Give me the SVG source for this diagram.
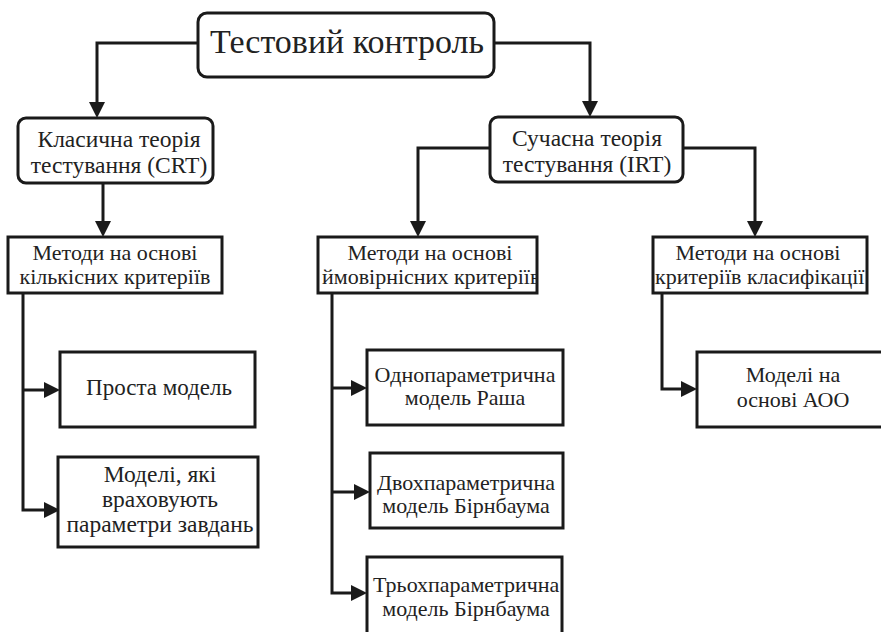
<svg xmlns="http://www.w3.org/2000/svg" width="881" height="632" viewBox="0 0 881 632">
<style>
.box{fill:#fff;stroke:#1a1a1a;stroke-width:3}
.t{font-family:"Liberation Serif","Times New Roman",serif;font-size:22px;fill:#222;text-anchor:middle}
.b{font-size:23.5px}
.c{fill:none;stroke:#1a1a1a;stroke-width:3}
</style>
<defs>
<marker id="ah" viewBox="0 0 16 16" refX="12" refY="8" markerWidth="16" markerHeight="16" markerUnits="userSpaceOnUse" orient="auto">
<path d="M0,0 L16,8 L0,16 z" fill="#1a1a1a"/>
</marker>
<clipPath id="c2"><rect x="318" y="237" width="219" height="56"/></clipPath>
<clipPath id="c3"><rect x="653" y="237" width="214" height="56"/></clipPath>
<clipPath id="c6"><rect x="367" y="557" width="195" height="80"/></clipPath>
</defs>
<rect width="881" height="632" fill="#fff"/>
<g id="connectors">
<path class="c" d="M198,43 H97 V114" marker-end="url(#ah)"/>
<path class="c" d="M494,43 H590 V113" marker-end="url(#ah)"/>
<path class="c" d="M103,183 V233" marker-end="url(#ah)"/>
<path class="c" d="M490,148 H418 V233" marker-end="url(#ah)"/>
<path class="c" d="M683,148 H755 V233" marker-end="url(#ah)"/>
<path class="c" d="M23,293 V510 H56" marker-end="url(#ah)"/>
<path class="c" d="M23,390 H56" marker-end="url(#ah)"/>
<path class="c" d="M332,293 V593 H363" marker-end="url(#ah)"/>
<path class="c" d="M332,388 H363" marker-end="url(#ah)"/>
<path class="c" d="M332,492 H366" marker-end="url(#ah)"/>
<path class="c" d="M662,293 V389 H693" marker-end="url(#ah)"/>
</g>
<g id="root">
<rect class="box" x="198" y="13" width="296" height="64" rx="9"/>
<text class="t" x="347" y="53" style="font-size:34px">Тестовий контроль</text>
</g>
<g id="crt">
<rect class="box" x="18" y="118" width="195" height="65" rx="8"/>
<text class="t b" x="119" y="147">Класична теорія</text>
<text class="t b" x="119" y="173">тестування (CRT)</text>
</g>
<g id="irt">
<rect class="box" x="490" y="117" width="193" height="65" rx="8"/>
<text class="t b" x="587" y="146">Сучасна теорія</text>
<text class="t b" x="587" y="172">тестування (IRT)</text>
</g>
<g id="methods-quant">
<rect class="box" x="8" y="237" width="214" height="56"/>
<text class="t" x="115" y="260">Методи на основі</text>
<text class="t" x="115" y="284">кількісних критеріїв</text>
</g>
<g id="methods-prob">
<rect class="box" x="318" y="237" width="219" height="56"/>
<g clip-path="url(#c2)">
<text class="t" x="430" y="260">Методи на основі</text>
<text class="t" x="322" y="284" style="text-anchor:start">ймовірнісних критеріїв</text>
</g>
</g>
<g id="methods-class">
<rect class="box" x="653" y="237" width="214" height="56"/>
<g clip-path="url(#c3)">
<text class="t" x="758" y="260">Методи на основі</text>
<text class="t" x="655" y="284" style="text-anchor:start">критеріїв класифікації</text>
</g>
</g>
<g id="simple-model">
<rect class="box" x="60" y="352" width="195" height="75"/>
<text class="t" x="159" y="395" style="font-size:23px">Проста модель</text>
</g>
<g id="param-models">
<rect class="box" x="58" y="457" width="200" height="90"/>
<text class="t b" x="160" y="482">Моделі, які</text>
<text class="t b" x="160" y="507">враховують</text>
<text class="t b" x="160" y="532">параметри завдань</text>
</g>
<g id="rasch">
<rect class="box" x="367" y="350" width="196" height="75"/>
<text class="t" x="465" y="382">Однопараметрична</text>
<text class="t" x="465" y="405">модель Раша</text>
</g>
<g id="birnbaum2">
<rect class="box" x="370" y="453" width="193" height="75"/>
<text class="t" x="466" y="490">Двохпараметрична</text>
<text class="t" x="466" y="513">модель Бірнбаума</text>
</g>
<g id="birnbaum3">
<rect class="box" x="367" y="557" width="195" height="80"/>
<g clip-path="url(#c6)">
<text class="t" x="373" y="592" style="text-anchor:start">Трьохпараметрична</text>
<text class="t" x="466" y="616">модель Бірнбаума</text>
</g>
</g>
<g id="aoo">
<rect class="box" x="697" y="352" width="190" height="75"/>
<text class="t" x="793" y="382">Моделі на</text>
<text class="t" x="793" y="407">основі АОО</text>
</g>
</svg>
